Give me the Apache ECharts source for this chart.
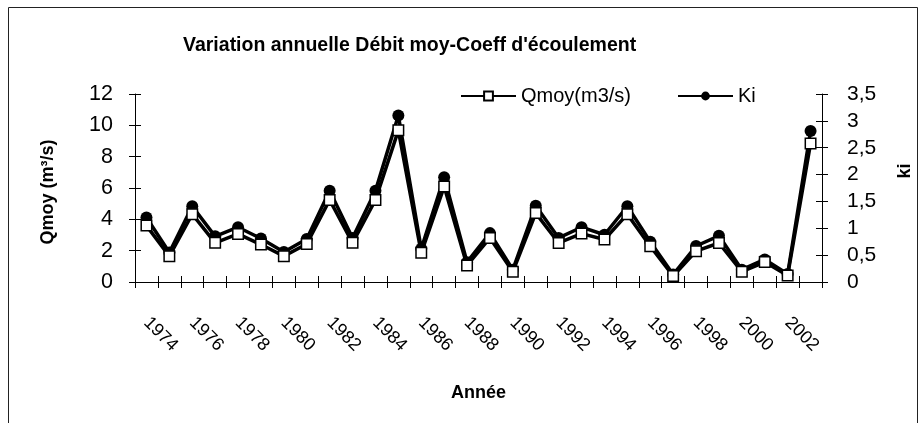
<!DOCTYPE html>
<html>
<head>
<meta charset="utf-8">
<script src="https://cdn.jsdelivr.net/npm/echarts@6/dist/echarts.min.js"></script>
<style>
html,body{margin:0;padding:0;background:#fff;}
#chart{width:922px;height:423px;}
</style>
</head>
<body>
<div id="chart"></div>
<script>
var years = ['1974','1975','1976','1977','1978','1979','1980','1981','1982','1983','1984','1985','1986','1987','1988','1989','1990','1991','1992','1993','1994','1995','1996','1997','1998','1999','2000','2001','2002','2003'];
var qmoy = [3.6, 1.65, 4.33, 2.5, 3.07, 2.39, 1.65, 2.43, 5.24, 2.5, 5.24, 9.68, 1.86, 6.09, 1.06, 2.81, 0.66, 4.4, 2.49, 3.09, 2.71, 4.33, 2.28, 0.38, 1.97, 2.49, 0.66, 1.27, 0.42, 8.84];
var ki = [1.2, 0.55, 1.41, 0.85, 1.02, 0.81, 0.56, 0.8, 1.7, 0.82, 1.7, 3.1, 0.62, 1.95, 0.37, 0.91, 0.23, 1.42, 0.82, 1.02, 0.88, 1.41, 0.75, 0.14, 0.67, 0.86, 0.23, 0.42, 0.15, 2.81];
var leftTicks = [0, 12, 2];
var rightTicks = [0, 3.5, 0.5];

var FONT = 'Liberation Sans';
var chart = echarts.init(document.getElementById('chart'), null, {renderer: 'canvas'});
var lineCol = '#000';
function commaFmt(v){ return String(v).replace('.', ','); }

var option = {
  backgroundColor: '#fff',
  animation: false,
  textStyle: {fontFamily: FONT, color: '#000'},
  title: {
    text: "Variation annuelle Débit moy-Coeff d'écoulement",
    left: 183, top: 36, padding: 0,
    textStyle: {fontFamily: FONT, fontSize: 19.5, fontWeight: 'bold', color: '#000'}
  },
  legend: {
    data: ['Qmoy(m3/s)', 'Ki'],
    left: 460, top: 86, padding: 0,
    itemWidth: 55, itemHeight: 11, itemGap: 46,
    textStyle: {fontFamily: FONT, fontSize: 20, color: '#000'}
  },
  graphic: [{
    type: 'rect', silent: true, z: -1,
    shape: {x: 8.5, y: 7.5, width: 909, height: 440},
    style: {fill: 'none', stroke: '#222', lineWidth: 1}
  }],
  grid: {left: 135, right: 100, top: 94, bottom: 141},
  xAxis: [{
    type: 'category', data: years, position: 'bottom', boundaryGap: true,
    name: 'Année', nameLocation: 'middle', nameGap: 102,
    nameTextStyle: {fontFamily: FONT, fontSize: 18, fontWeight: 'bold', color: '#000'},
    axisLine: {lineStyle: {color: lineCol, width: 1}},
    axisTick: {show: true, interval: 0, alignWithLabel: false, length: 6, lineStyle: {color: lineCol}},
    axisLabel: {interval: 1, rotate: -45, margin: 38, fontFamily: FONT, fontSize: 18, color: '#000'},
    splitLine: {show: false}
  }, {
    type: 'category', data: years, position: 'bottom', boundaryGap: true,
    axisLine: {show: false},
    axisTick: {show: true, inside: true, interval: 0, alignWithLabel: false, length: 6, lineStyle: {color: lineCol}},
    axisLabel: {show: false},
    splitLine: {show: false}
  }],
  yAxis: [{
    type: 'value', position: 'left', min: leftTicks[0], max: leftTicks[1], interval: leftTicks[2],
    name: 'Qmoy (m³/s)', nameLocation: 'middle', nameGap: 78,
    nameTextStyle: {fontFamily: FONT, fontSize: 18, fontWeight: 'bold', color: '#000', padding: [0, 8, 0, 0]},
    axisLine: {show: true, lineStyle: {color: lineCol, width: 1}},
    axisTick: {show: true, length: 6, lineStyle: {color: lineCol}},
    axisLabel: {margin: 22, fontFamily: FONT, fontSize: 21.5, color: '#000'},
    splitLine: {show: false}
  }, {
    type: 'value', position: 'right', min: rightTicks[0], max: rightTicks[1], interval: rightTicks[2],
    name: 'ki', nameLocation: 'middle', nameGap: 74,
    nameTextStyle: {fontFamily: FONT, fontSize: 18, fontWeight: 'bold', color: '#000', padding: [0, 0, 0, 34]},
    axisLine: {show: true, lineStyle: {color: lineCol, width: 1}},
    axisTick: {show: true, length: 6, lineStyle: {color: lineCol}},
    axisLabel: {margin: 25, fontFamily: FONT, fontSize: 21, color: '#000', formatter: commaFmt},
    splitLine: {show: false}
  }, {
    type: 'value', position: 'left', min: leftTicks[0], max: leftTicks[1], interval: leftTicks[2],
    axisLine: {show: false},
    axisTick: {show: true, inside: true, length: 6, lineStyle: {color: lineCol}},
    axisLabel: {show: false}, splitLine: {show: false}
  }, {
    type: 'value', position: 'right', min: rightTicks[0], max: rightTicks[1], interval: rightTicks[2],
    axisLine: {show: false},
    axisTick: {show: true, inside: true, length: 6, lineStyle: {color: lineCol}},
    axisLabel: {show: false}, splitLine: {show: false}
  }],
  series: [{
    name: 'Ki', type: 'line', data: ki, xAxisIndex: 0, yAxisIndex: 1, z: 2,
    symbol: 'circle', symbolSize: 12,
    lineStyle: {color: '#000', width: 3.5},
    itemStyle: {color: '#000', borderColor: '#000', borderWidth: 0}
  }, {
    name: 'Qmoy(m3/s)', type: 'line', data: qmoy, xAxisIndex: 0, yAxisIndex: 0, z: 3,
    symbol: 'rect', symbolSize: 10.5, showAllSymbol: true,
    lineStyle: {color: '#000', width: 3.5},
    itemStyle: {color: '#fff', borderColor: '#000', borderWidth: 1.5}
  }]
};
chart.setOption(option);
</script>
</body>
</html>
